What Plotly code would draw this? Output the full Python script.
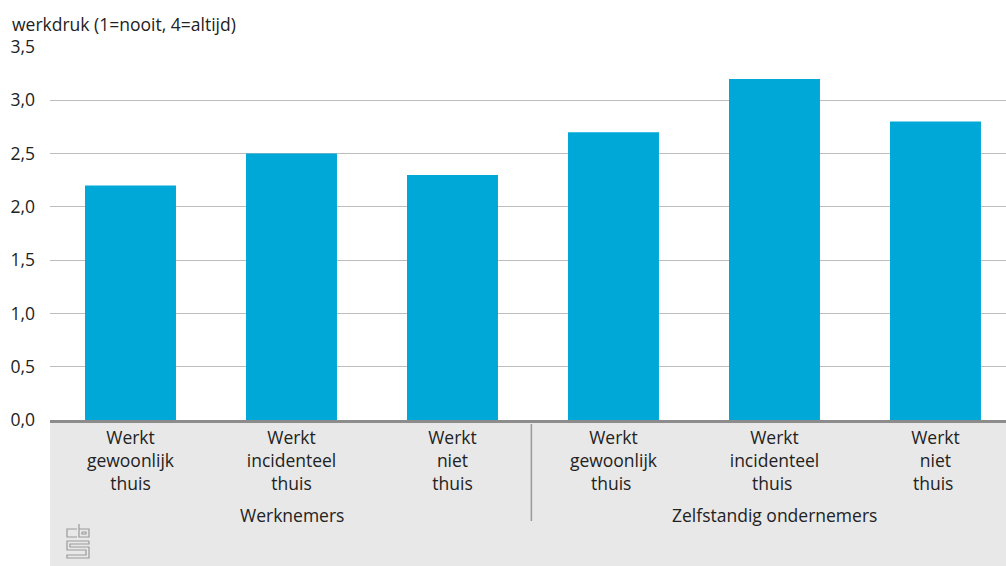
import plotly.graph_objects as go

categories = ["Werkt<br>gewoonlijk<br>thuis", "Werkt<br>incidenteel<br>thuis", "Werkt<br>niet<br>thuis",
              "Werkt<br>gewoonlijk<br>thuis ", "Werkt<br>incidenteel<br>thuis ", "Werkt<br>niet<br>thuis "]
cat_ids = ["wn_gew", "wn_inc", "wn_niet", "zo_gew", "zo_inc", "zo_niet"]
values = [2.2, 2.5, 2.3, 2.7, 3.2, 2.8]
groups = ["Werknemers", "Zelfstandig ondernemers"]
group_centers = [1, 4]
y_ticks = [0, 0.5, 1.0, 1.5, 2.0, 2.5, 3.0, 3.5]
y_title = "werkdruk (1=nooit, 4=altijd)"

W, H = 1006, 566
L, R, T, B = 50, 0, 47, 146
PW, PH = W - L - R, H - T - B

def px(x):
    return (x - L) / PW

def py(y):
    return (H - B - y) / PH

FONT = "Open Sans"
TXT = "#222222"
FS = 17.5

fig = go.Figure()
fig.add_trace(go.Bar(
    x=list(range(len(cat_ids))), y=values, marker=dict(color="#00a8d8", line=dict(width=0)),
    width=0.565, hoverinfo="y"))

shapes = []
# gray category area
shapes.append(dict(type="rect", xref="paper", yref="paper", x0=0, x1=1, y0=py(H), y1=0,
                   fillcolor="#e8e8e8", line=dict(width=0), layer="below"))
# group separator
shapes.append(dict(type="line", xref="x", yref="paper", x0=2.49, x1=2.49, y0=py(424), y1=py(521),
                   line=dict(color="#999999", width=1.5)))
# cbs logo (decoration)
logo_paths = [
    [(77, 529), (67, 529), (67, 537), (77, 537)],
    [(79, 524), (79, 537), (89, 537), (89, 529), (79, 529)],
    [(82, 532), (86, 532), (86, 534), (82, 534), (82, 532)],
    [(89, 541), (67, 541), (67, 550), (86, 550), (86, 555), (67, 555), (67, 558), (89, 558),
     (89, 547), (70, 547), (70, 544), (89, 544), (89, 541)],
]
for pts in logo_paths:
    d = "M " + " L ".join(f"{px(a):.5f},{py(b):.5f}" for a, b in pts)
    shapes.append(dict(type="path", xref="paper", yref="paper", path=d,
                       line=dict(color="#9a9a9a", width=1.2)))

annotations = [dict(text=y_title, xref="paper", yref="paper", x=px(10), y=py(24),
                    xanchor="left", yanchor="middle", showarrow=False,
                    font=dict(family=FONT, size=FS, color=TXT))]
for g, c in zip(groups, group_centers):
    annotations.append(dict(text=g, xref="x", yref="paper", x=c, y=py(515),
                            xanchor="center", yanchor="middle", showarrow=False,
                            font=dict(family=FONT, size=FS, color=TXT)))

fig.update_layout(
    width=W, height=H, margin=dict(l=L, r=R, t=T, b=B),
    paper_bgcolor="white", plot_bgcolor="white",
    separators=", ", showlegend=False,
    shapes=shapes, annotations=annotations,
    xaxis=dict(tickmode="array", tickvals=list(range(len(cat_ids))), ticktext=categories,
               range=[-0.5, 5.438], showgrid=False, zeroline=False,
               showline=True, linecolor="#8c8c8c", linewidth=3, ticks="",
               tickfont=dict(family=FONT, size=FS, color=TXT)),
    yaxis=dict(range=[0, 3.5], tickvals=y_ticks, tickformat=".1f",
               showgrid=True, gridcolor="#bdbdbd", gridwidth=1, zeroline=False,
               showline=False, ticks="", ticklabelstandoff=14,
               tickfont=dict(family=FONT, size=FS, color=TXT)),
)

fig.write_html("out.html", config={"displayModeBar": False},
               post_script="document.body.style.margin='0';document.body.style.padding='0';")
